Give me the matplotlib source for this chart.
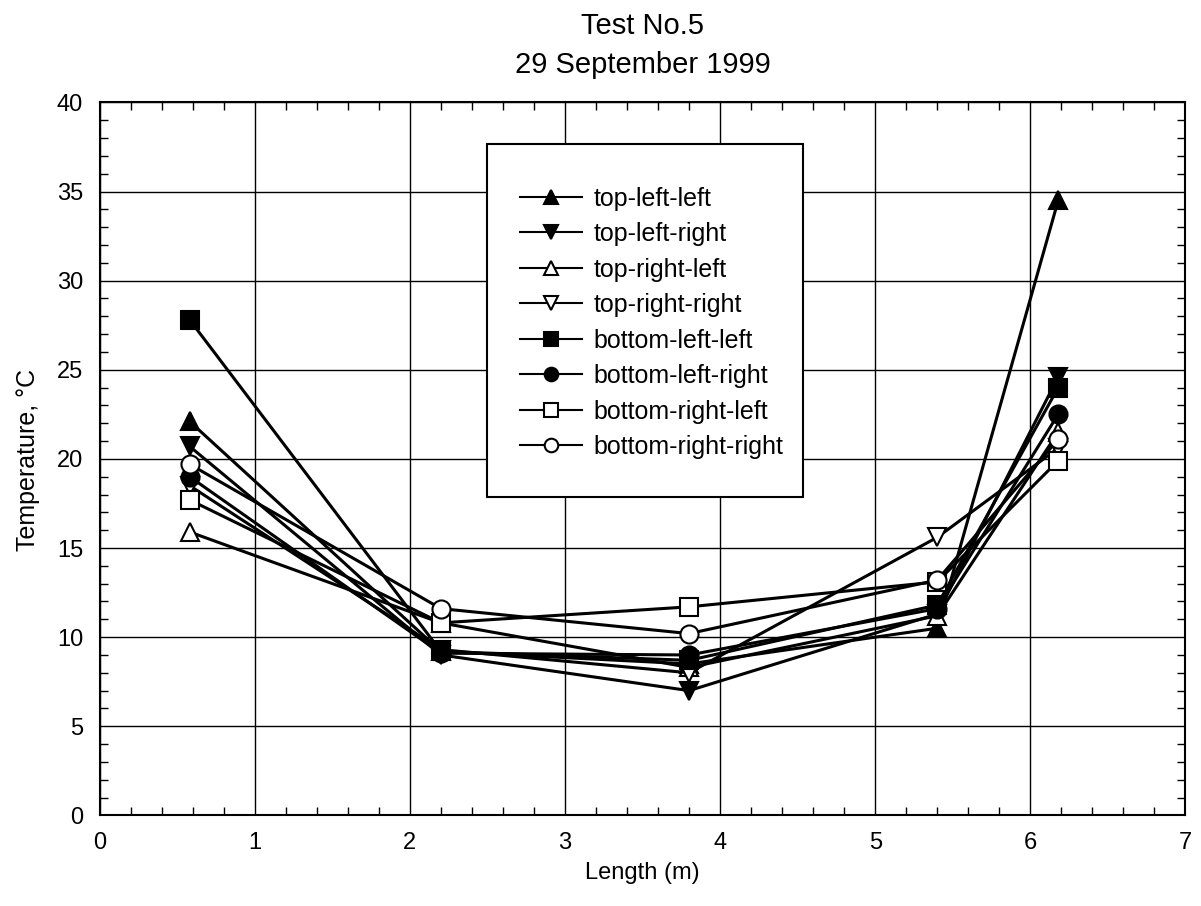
import numpy as np
import matplotlib
matplotlib.use('Agg')
import matplotlib.pyplot as plt
from matplotlib.patches import Rectangle
from matplotlib.ticker import MultipleLocator

plt.rcParams['font.family'] = ['Liberation Sans', 'DejaVu Sans']

# positions along the length (m)
length = [0.58, 2.2, 3.8, 5.4, 6.18]

# temperatures (deg C)
top_left_left = [22.1, 9.2, 8.5, 10.5, 34.5]
top_left_right = [20.7, 9.0, 7.0, 11.3, 24.6]
top_right_left = [15.9, 10.8, 8.3, 11.2, 21.5]
top_right_right = [18.5, 9.3, 8.0, 15.6, 20.6]
bottom_left_left = [27.8, 9.2, 8.7, 11.8, 24.0]
bottom_left_right = [19.0, 9.1, 9.0, 11.6, 22.5]
bottom_right_left = [17.7, 10.8, 11.7, 13.1, 19.9]
bottom_right_right = [19.7, 11.6, 10.2, 13.2, 21.1]

series = [
    ('top-left-left', top_left_left, '^', 'black'),
    ('top-left-right', top_left_right, 'v', 'black'),
    ('top-right-left', top_right_left, '^', 'white'),
    ('top-right-right', top_right_right, 'v', 'white'),
    ('bottom-left-left', bottom_left_left, 's', 'black'),
    ('bottom-left-right', bottom_left_right, 'o', 'black'),
    ('bottom-right-left', bottom_right_left, 's', 'white'),
    ('bottom-right-right', bottom_right_right, 'o', 'white'),
]

fig = plt.figure(figsize=(12.01, 9.06), dpi=100)
ax = fig.add_axes([0.083, 0.1, 0.904, 0.787])

for name, vals, mk, fc in series:
    ax.plot(length, vals, color='black', lw=2.2, marker=mk, ms=13,
            mfc=fc, mec='black', mew=1.5, label=name)

ax.set_xlim(0, 7)
ax.set_ylim(0, 40)
ax.xaxis.set_major_locator(MultipleLocator(1))
ax.xaxis.set_minor_locator(MultipleLocator(0.2))
ax.yaxis.set_major_locator(MultipleLocator(5))
ax.yaxis.set_minor_locator(MultipleLocator(1))
ax.tick_params(which='both', direction='in', top=True, right=True, labelsize=17)
ax.tick_params(which='major', length=0, pad=12)
ax.tick_params(which='minor', length=6, width=1)
ax.grid(True, which='major', color='black', lw=1.0)
for s in ax.spines.values():
    s.set_linewidth(1.5)

ax.set_xlabel('Length (m)', fontsize=17)
ax.xaxis.set_label_coords(0.5, -0.066)
ax.set_ylabel('Temperature, \u00b0C', fontsize=18)
ax.yaxis.set_label_coords(-0.055, 0.498)
fig.text(0.535, 0.987, 'Test No.5\n29 September 1999', ha='center', va='top',
         fontsize=21, linespacing=1.5)

# legend box
ax.add_patch(Rectangle((0.357, 0.446), 0.291, 0.496, transform=ax.transAxes,
                       fc='white', ec='black', lw=1.5, zorder=4.5))
leg = ax.legend(loc='upper left', bbox_to_anchor=(0.387, 0.882), fontsize=18,
                handlelength=2.5, markerscale=0.75, labelspacing=0.46,
                borderpad=0, borderaxespad=0, handletextpad=0.45,
                frameon=False)
for line in leg.get_lines():
    line.set_linewidth(1.5)

fig.savefig('out.png', dpi=100)
